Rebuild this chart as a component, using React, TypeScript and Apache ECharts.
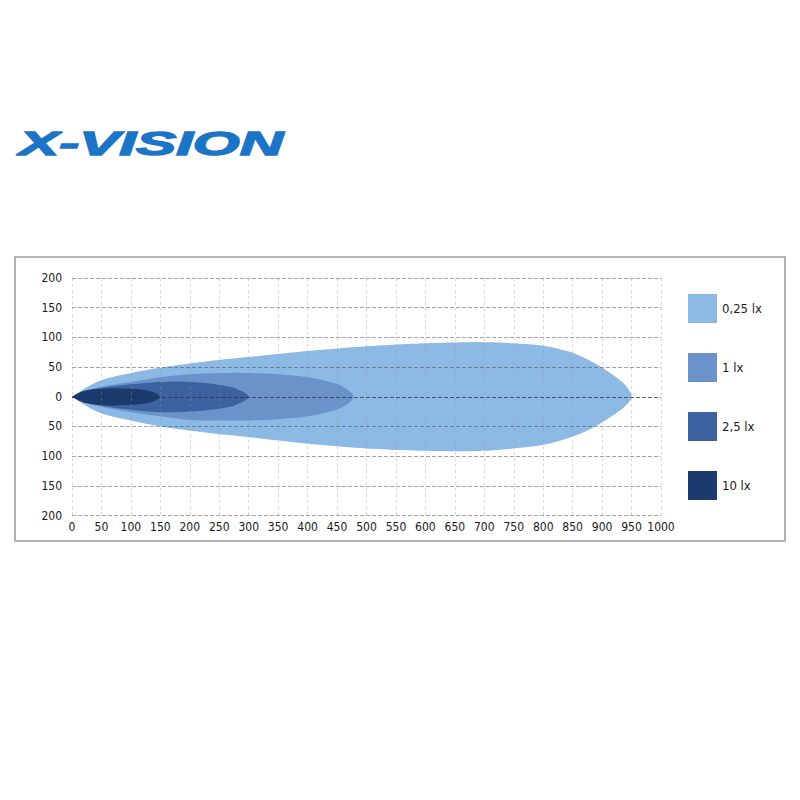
import React, { useEffect, useRef } from "react";
import * as echarts from "echarts";

// Axis ticks
const xTicks = { min: 0, max: 1000, interval: 50 };
const yTicks = { min: -200, max: 200, interval: 50 };

// Legend / series names
const seriesNames = ["0,25 lx", "1 lx", "2,5 lx", "10 lx"];
const seriesColors = ["#8dbae5", "#6b93c9", "#3c639f", "#1b3b6f"];

// 0,25 lx isolux contour
const x025 = [0, 25, 50, 100, 150, 200, 250, 300, 400, 500, 600, 700, 750, 800, 825, 850, 875, 900, 925, 940, 950];
const up025 = [0, 16, 28, 40, 49, 56, 62, 67, 77, 85, 90, 92, 90, 86, 81, 74, 63, 49, 32, 19, 0];
const lo025 = [0, -16, -28, -40, -50, -57, -63, -68, -79, -87, -91, -91, -87, -81, -75, -67, -57, -43, -27, -15, 0];

// 1 lx
const x1 = [0, 25, 50, 100, 150, 200, 250, 300, 350, 400, 430, 460, 478];
const up1 = [0, 10, 17, 25, 33, 38, 40, 40, 38, 33, 27, 17, 0];
const lo1 = [0, -10, -17, -26, -33, -39, -40, -40, -38, -33, -27, -17, 0];

// 2,5 lx
const x25 = [0, 25, 50, 100, 150, 200, 250, 280, 300];
const up25 = [0, 9, 15, 21, 25, 25, 20, 13, 0];
const lo25 = [0, -9, -15, -22, -26, -25, -20, -13, 0];

// 10 lx
const x10 = [0, 15, 30, 60, 90, 120, 140, 149];
const up10 = [0, 8, 12, 14, 14, 12, 7, 0];
const lo10 = [0, -8, -12, -15, -14, -12, -7, 0];

const FONT = '"Liberation Sans Narrow", "DejaVu Sans Condensed", "Liberation Sans", sans-serif';

// outline: starts at the source tip, runs along the upper edge, round the far end, back along the lower edge to the tip
function outline(xs: number[], up: number[], lo: number[]): number[][] {
  const pts: number[][] = [];
  for (let i = 0; i < xs.length; i++) pts.push([xs[i], up[i]]);
  for (let i = xs.length - 2; i >= 0; i--) pts.push([xs[i], lo[i]]);
  return pts;
}

// centripetal Catmull-Rom through pixel points (drawing only)
function spline(p: number[][], steps = 10): number[][] {
  const out: number[][] = [];
  const n = p.length;
  const get = (i: number) => p[Math.max(0, Math.min(n - 1, i))];
  for (let i = 0; i < n - 1; i++) {
    const p0 = get(i - 1), p1 = get(i), p2 = get(i + 1), p3 = get(i + 2);
    const d = (a: number[], b: number[]) => Math.max(1e-4, Math.pow(Math.hypot(b[0] - a[0], b[1] - a[1]), 0.5));
    const t0 = 0, t1 = t0 + d(p0, p1), t2 = t1 + d(p1, p2), t3 = t2 + d(p2, p3);
    for (let s = 0; s < steps; s++) {
      const t = t1 + ((t2 - t1) * s) / steps;
      const lerp = (a: number[], b: number[], ta: number, tb: number) => {
        const w = tb - ta < 1e-6 ? 0 : (t - ta) / (tb - ta);
        return [a[0] + (b[0] - a[0]) * w, a[1] + (b[1] - a[1]) * w];
      };
      const A1 = lerp(p0, p1, t0, t1), A2 = lerp(p1, p2, t1, t2), A3 = lerp(p2, p3, t2, t3);
      const B1 = lerp(A1, A2, t0, t2), B2 = lerp(A2, A3, t1, t3);
      out.push(lerp(B1, B2, t1, t2));
    }
  }
  out.push(p[n - 1]);
  return out;
}

const shapes = [
  outline(x025, up025, lo025),
  outline(x1, up1, lo1),
  outline(x25, up25, lo25),
  outline(x10, up10, lo10),
];

export default function App() {
  const ref = useRef<HTMLDivElement>(null);
  useEffect(() => {
    if (!ref.current) return;
    const chart = echarts.init(ref.current, null, { renderer: "svg" });
    const hColors: string[] = [];
    for (let v = yTicks.min; v <= yTicks.max; v += yTicks.interval) {
      hColors.push(v === 0 ? "rgba(40,50,70,0.75)" : "rgba(70,70,80,0.5)");
    }
    const series = shapes.map((pts, si) => ({
      type: "custom",
      name: seriesNames[si],
      z: 2,
      itemStyle: { color: seriesColors[si] },
      encode: { x: 0, y: 1 },
      data: pts,
      renderItem: (params: any, api: any) => {
        if (params.dataIndex !== 0) return null;
        const px = pts.map((d) => api.coord(d));
        return {
          type: "polygon",
          shape: { points: spline(px, 10) },
          style: { fill: seriesColors[si] },
        };
      },
    }));
    chart.setOption({
      animation: false,
      backgroundColor: "#ffffff",
      grid: { left: 72, right: 139, top: 278, bottom: 284.5, containLabel: false },
      xAxis: {
        type: "value",
        min: xTicks.min,
        max: xTicks.max,
        interval: xTicks.interval,
        z: 3,
        axisLine: { show: false },
        axisTick: { show: false },
        axisLabel: {
          margin: 5,
          color: "#1a1a1a",
          fontSize: 12,
          fontFamily: FONT,
          formatter: (v: number) => String(v),
        },
        splitLine: { show: true, lineStyle: { color: "rgba(150,150,150,0.35)", type: [3, 3], width: 1 } },
      },
      yAxis: {
        type: "value",
        min: yTicks.min,
        max: yTicks.max,
        interval: yTicks.interval,
        z: 3,
        axisLine: { show: false },
        axisTick: { show: false },
        axisLabel: {
          margin: 10,
          color: "#1a1a1a",
          fontSize: 12,
          fontFamily: FONT,
          formatter: (v: number) => String(Math.abs(v)),
        },
        splitLine: { show: true, lineStyle: { color: hColors, type: [4, 2], width: 1 } },
      },
      legend: {
        orient: "vertical",
        left: 688,
        top: 294,
        padding: 0,
        itemWidth: 29,
        itemHeight: 29,
        itemGap: 30,
        icon: "rect",
        selectedMode: false,
        data: seriesNames,
        textStyle: { color: "#1a1a1a", fontSize: 13, fontFamily: FONT },
      },
      graphic: [
        {
          type: "rect",
          shape: { x: 15, y: 257, width: 770, height: 284 },
          style: { fill: "none", stroke: "#a0a0a0", lineWidth: 1.6 },
          z: -1,
        },
        {
          type: "text",
          x: 19,
          y: 143,
          scaleX: 1.77,
          style: {
            text: "X-VISION",
            fill: "#1c74c6",
            stroke: "#1c74c6",
            lineWidth: 1.4,
            font: 'italic 900 34px "Liberation Sans", Arial, sans-serif',
            textAlign: "left",
            textVerticalAlign: "middle",
          },
        },
      ],
      series,
    });
    return () => chart.dispose();
  }, []);
  return (
    <div
      ref={ref}
      style={{ position: "fixed", left: 0, top: 0, width: 800, height: 800 }}
    />
  );
}
